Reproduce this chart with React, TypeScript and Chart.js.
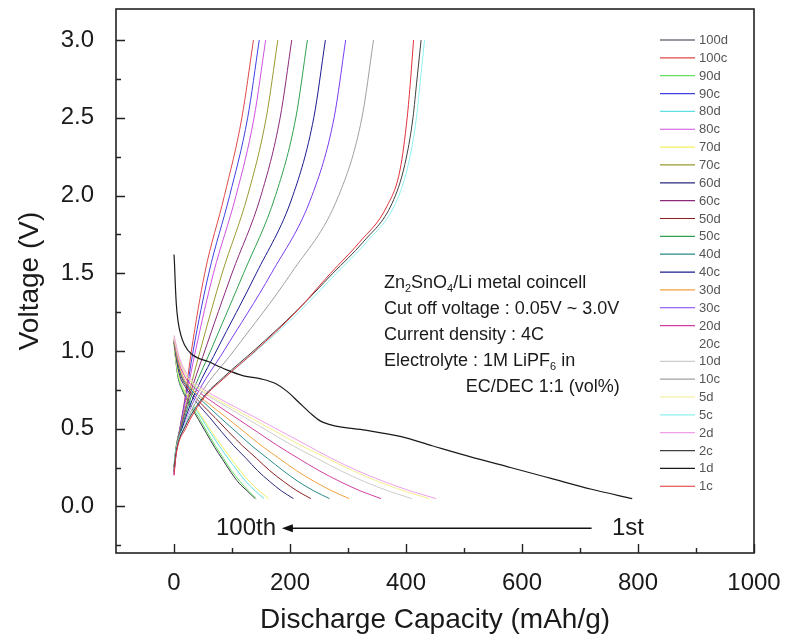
import React, { useEffect, useRef } from 'react';
import { Chart, registerables } from 'chart.js';

Chart.register(...registerables);

type Pt = [number, number];

// ---- axis ticks ----
const X_TICKS = [0, 200, 400, 600, 800, 1000];
const X_MINOR = [100, 300, 500, 700, 900];
const Y_TICKS = [0, 0.5, 1, 1.5, 2, 2.5, 3];
const Y_MINOR = [-0.25, 0.25, 0.75, 1.25, 1.75, 2.25, 2.75];

// ---- charge curves (capacity mAh/g, voltage V) ----
const c1: Pt[] = [[0, 0.2], [4, 0.34], [20, 0.5], [52, 0.7], [85, 0.82], [140, 1.0], [210, 1.25], [270, 1.5], [320, 1.7], [367, 1.93], [390, 2.17], [402, 2.5], [408, 2.75], [413, 3.0]];
const c2: Pt[] = [[0, 0.25], [4, 0.36], [20, 0.52], [50, 0.7], [85, 0.83], [140, 1.01], [212, 1.26], [274, 1.5], [326, 1.7], [376, 1.95], [398, 2.2], [412, 2.5], [419, 2.75], [426, 3.0]];
const c5: Pt[] = [[0, 0.28], [4, 0.38], [20, 0.53], [50, 0.7], [88, 0.83], [145, 1.01], [218, 1.26], [280, 1.5], [332, 1.7], [382, 1.95], [404, 2.2], [418, 2.5], [425, 2.75], [432, 3.0]];
const c10: Pt[] = [[0, 0.22], [4, 0.35], [17, 0.5], [42, 0.7], [103, 1.0], [202, 1.5], [284, 2.0], [324, 2.5], [344, 3.0]];
const c20: Pt[] = [[0, 0.24], [4, 0.36], [16, 0.5], [39, 0.7], [94, 1.0], [185, 1.5], [261, 2.0], [300, 2.5], [320, 3.0]];
const c30: Pt[] = [[0, 0.21], [4, 0.35], [16, 0.5], [37, 0.7], [86, 1.0], [168, 1.5], [238, 2.0], [276, 2.5], [296, 3.0]];
const c40: Pt[] = [[0, 0.23], [4, 0.36], [14, 0.5], [33, 0.7], [73, 1.0], [142, 1.5], [205, 2.0], [241, 2.5], [261, 3.0]];
const c50: Pt[] = [[0, 0.26], [4, 0.38], [13, 0.5], [29, 0.7], [63, 1.0], [120, 1.5], [175, 2.0], [210, 2.5], [230, 3.0]];
const c60: Pt[] = [[0, 0.22], [3, 0.35], [12, 0.5], [26, 0.7], [53, 1.0], [100, 1.5], [150, 2.0], [183, 2.5], [203, 3.0]];
const c70: Pt[] = [[0, 0.25], [3, 0.37], [11, 0.5], [24, 0.7], [45, 1.0], [83, 1.5], [127, 2.0], [159, 2.5], [179, 3.0]];
const c80: Pt[] = [[0, 0.2], [3, 0.34], [11, 0.5], [21, 0.7], [37, 1.0], [68, 1.5], [107, 2.0], [138, 2.5], [158, 3.0]];
const c90: Pt[] = [[0, 0.24], [3, 0.36], [10, 0.5], [20, 0.7], [33, 1.0], [60, 1.5], [96, 2.0], [127, 2.5], [147, 3.0]];
const c100: Pt[] = [[0, 0.22], [3, 0.35], [10, 0.5], [19, 0.7], [30, 1.0], [53, 1.5], [87, 2.0], [117, 2.5], [137, 3.0]];

// ---- discharge curves ----
const d1: Pt[] = [[0, 1.62], [1, 1.55], [2, 1.45], [4, 1.3], [7, 1.19], [12, 1.1], [18, 1.04], [30, 0.98], [60, 0.93], [90, 0.88], [120, 0.84], [150, 0.82], [175, 0.79], [195, 0.74], [215, 0.67], [235, 0.6], [252, 0.55], [275, 0.52], [330, 0.49], [390, 0.45], [445, 0.39], [510, 0.32], [580, 0.25], [650, 0.18], [720, 0.11], [790, 0.05]];
const d2: Pt[] = [[0, 1.1], [9, 0.96], [23, 0.85], [45, 0.77], [90, 0.67], [136, 0.58], [181, 0.49], [226, 0.4], [271, 0.31], [316, 0.23], [362, 0.16], [407, 0.1], [452, 0.05]];
const d5: Pt[] = [[0, 1.09], [9, 0.95], [22, 0.84], [44, 0.76], [88, 0.66], [132, 0.57], [176, 0.48], [220, 0.39], [264, 0.31], [308, 0.23], [352, 0.16], [396, 0.1], [440, 0.05]];
const d10: Pt[] = [[0, 1.08], [8, 0.95], [21, 0.84], [41, 0.76], [82, 0.66], [123, 0.57], [164, 0.48], [205, 0.39], [246, 0.31], [287, 0.23], [328, 0.16], [369, 0.1], [410, 0.05]];
const d20: Pt[] = [[0, 1.08], [7, 0.95], [18, 0.84], [36, 0.76], [71, 0.66], [107, 0.57], [143, 0.48], [179, 0.39], [214, 0.31], [250, 0.23], [286, 0.16], [321, 0.1], [357, 0.05]];
const d30: Pt[] = [[0, 1.07], [6, 0.95], [15, 0.84], [30, 0.76], [60, 0.66], [91, 0.57], [121, 0.48], [151, 0.39], [181, 0.31], [211, 0.23], [242, 0.16], [272, 0.1], [302, 0.05]];
const d40: Pt[] = [[0, 1.07], [5, 0.95], [13, 0.84], [27, 0.76], [54, 0.66], [80, 0.57], [107, 0.48], [134, 0.39], [161, 0.31], [188, 0.23], [214, 0.16], [241, 0.1], [268, 0.05]];
const d50: Pt[] = [[0, 1.06], [5, 0.95], [12, 0.84], [24, 0.76], [47, 0.66], [71, 0.57], [94, 0.48], [118, 0.39], [142, 0.31], [165, 0.23], [189, 0.16], [212, 0.1], [236, 0.05]];
const d60: Pt[] = [[0, 1.06], [4, 0.95], [10, 0.84], [21, 0.76], [41, 0.66], [62, 0.57], [82, 0.48], [103, 0.39], [124, 0.31], [144, 0.23], [165, 0.16], [185, 0.1], [206, 0.05]];
const d70: Pt[] = [[0, 1.05], [3, 0.95], [8, 0.84], [16, 0.76], [33, 0.66], [49, 0.57], [65, 0.48], [82, 0.39], [98, 0.31], [114, 0.23], [130, 0.16], [147, 0.1], [163, 0.05]];
const d80: Pt[] = [[0, 1.05], [3, 0.95], [8, 0.84], [16, 0.76], [31, 0.66], [47, 0.57], [62, 0.48], [78, 0.39], [93, 0.31], [109, 0.23], [124, 0.16], [140, 0.1], [155, 0.05]];
const d90: Pt[] = [[0, 1.05], [3, 0.95], [7, 0.84], [14, 0.76], [28, 0.66], [43, 0.57], [57, 0.48], [71, 0.39], [85, 0.31], [99, 0.23], [114, 0.16], [128, 0.1], [142, 0.05]];
const d100: Pt[] = [[0, 1.05], [3, 0.94], [7, 0.83], [14, 0.75], [28, 0.65], [42, 0.56], [56, 0.47], [70, 0.38], [84, 0.3], [98, 0.22], [112, 0.15], [126, 0.1], [140, 0.05]];

const LABELS = ['1c', '1d', '2c', '2d', '5c', '5d', '10c', '10d', '20c', '20d', '30c', '30d', '40c', '40d', '50c', '50d', '60c', '60d', '70c', '70d', '80c', '80d', '90c', '90d', '100c', '100d'];
const CURVES: Pt[][] = [c1, d1, c2, d2, c5, d5, c10, d10, c20, d20, c30, d30, c40, d40, c50, d50, c60, d60, c70, d70, c80, d80, c90, d90, c100, d100];
const COLORS = [
  '#e0303a', '#1a1a1a', '#404040', '#f0a0e8', '#8ff0f0', '#f2ee8a', '#a0a0a0', '#cccccc', '#ffffff', '#d040a0',
  '#7a3cf0', '#f0a040', '#1a1a90', '#2a8a8a', '#30a050', '#8a2020', '#8a2a7a', '#2a2a80', '#9a9a30', '#f0f060',
  '#d050e0', '#60e0e0', '#4040e0', '#60e060', '#e04848', '#333344',
];

const NOTE_LINES: [string, boolean][][] = [
  [['Zn', false], ['2', true], ['SnO', false], ['4', true], ['/Li metal coincell', false]],
  [['Cut off voltage : 0.05V ~ 3.0V', false]],
  [['Current density : 4C', false]],
  [['Electrolyte : 1M LiPF', false], ['6', true], [' in', false]],
];
const NOTE_LAST = 'EC/DEC 1:1 (vol%)';

const FONT = "'Liberation Sans', Arial, Helvetica, sans-serif";
const TEXT = '#1a1a1a';

const decorPlugin = {
  id: 'decor',
  afterDatasetsDraw(chart: any) {
    const { ctx, chartArea: a, scales } = chart;
    const xs = scales.x;
    const ys = scales.y;
    ctx.save();
    // frame
    ctx.strokeStyle = '#222';
    ctx.lineWidth = 1.6;
    ctx.strokeRect(a.left, a.top, a.right - a.left, a.bottom - a.top);
    // inward ticks
    ctx.lineWidth = 1.4;
    ctx.beginPath();
    for (const v of X_TICKS) { const p = Math.round(xs.getPixelForValue(v)) + 0.5; ctx.moveTo(p, a.bottom); ctx.lineTo(p, a.bottom - 9); }
    for (const v of X_MINOR) { const p = Math.round(xs.getPixelForValue(v)) + 0.5; ctx.moveTo(p, a.bottom); ctx.lineTo(p, a.bottom - 5); }
    for (const v of Y_TICKS) { const p = Math.round(ys.getPixelForValue(v)) + 0.5; ctx.moveTo(a.left, p); ctx.lineTo(a.left + 9, p); }
    for (const v of Y_MINOR) { const p = Math.round(ys.getPixelForValue(v)) + 0.5; ctx.moveTo(a.left, p); ctx.lineTo(a.left + 5, p); }
    ctx.stroke();

    // legend (reverse order, inside plot on the right)
    ctx.font = `13px ${FONT}`;
    ctx.textBaseline = 'middle';
    ctx.textAlign = 'left';
    const n = LABELS.length;
    for (let i = 0; i < n; i++) {
      const k = n - 1 - i;
      const yy = a.top + 31 + i * 17.85;
      ctx.strokeStyle = COLORS[k];
      ctx.lineWidth = 1.2;
      ctx.beginPath();
      ctx.moveTo(a.right - 94, yy);
      ctx.lineTo(a.right - 59, yy);
      ctx.stroke();
      ctx.fillStyle = '#555';
      ctx.fillText(LABELS[k], a.right - 55, yy + 0.5);
    }

    // annotation block
    const size = 18;
    const x0 = xs.getPixelForValue(362);
    let y0 = ys.getPixelForValue(1.44);
    ctx.fillStyle = TEXT;
    for (const segs of NOTE_LINES) {
      let xx = x0;
      for (const [t, sub] of segs) {
        ctx.font = `${sub ? Math.round(size * 0.62) : size}px ${FONT}`;
        ctx.fillText(t, xx, sub ? y0 + size * 0.35 : y0);
        xx += ctx.measureText(t).width;
      }
      y0 += 26;
    }
    ctx.font = `${size}px ${FONT}`;
    ctx.fillText(NOTE_LAST, xs.getPixelForValue(503), y0);

    // arrow 1st -> 100th
    const ay = ys.getPixelForValue(-0.14);
    const tail = xs.getPixelForValue(720);
    const head = xs.getPixelForValue(186);
    ctx.strokeStyle = '#111';
    ctx.fillStyle = '#111';
    ctx.lineWidth = 1.5;
    ctx.beginPath();
    ctx.moveTo(tail, ay);
    ctx.lineTo(head + 8, ay);
    ctx.stroke();
    ctx.beginPath();
    ctx.moveTo(head, ay);
    ctx.lineTo(head + 11, ay - 4);
    ctx.lineTo(head + 11, ay + 4);
    ctx.closePath();
    ctx.fill();
    ctx.font = `24px ${FONT}`;
    ctx.fillStyle = TEXT;
    ctx.textAlign = 'right';
    ctx.fillText('100th', xs.getPixelForValue(176), ay);
    ctx.textAlign = 'left';
    ctx.fillText('1st', xs.getPixelForValue(755), ay);
    ctx.restore();
  },
};

export default function App() {
  const ref = useRef<HTMLCanvasElement>(null);
  useEffect(() => {
    document.body.style.margin = '0';
    const datasets = CURVES.map((pts, i) => ({
      label: LABELS[i],
      data: pts.map(([x, y]) => ({ x, y })),
      borderColor: COLORS[i],
      backgroundColor: COLORS[i],
      borderWidth: i === 1 ? 1.2 : 1,
      pointRadius: 0,
      fill: false,
      cubicInterpolationMode: 'monotone' as const,
    }));
    const chart = new Chart(ref.current as HTMLCanvasElement, {
      type: 'line',
      data: { datasets },
      options: {
        animation: false,
        responsive: false,
        devicePixelRatio: 1,
        layout: { padding: { top: 9, right: 31, left: 0, bottom: 0 } },
        plugins: { legend: { display: false }, tooltip: { enabled: false } },
        scales: {
          x: {
            type: 'linear',
            min: -100,
            max: 1000,
            grid: { display: false },
            border: { display: false },
            afterBuildTicks: (s: any) => { s.ticks = X_TICKS.map((v) => ({ value: v })); },
            afterFit: (s: any) => { s.height = 91; s.paddingLeft = 0; s.paddingRight = 0; },
            ticks: { padding: 8, autoSkip: false, maxRotation: 0, color: TEXT, font: { size: 24, family: FONT }, callback: (v: any) => String(v) },
            title: { display: true, text: 'Discharge Capacity (mAh/g)', color: TEXT, font: { size: 28, family: FONT }, padding: { top: 0, bottom: 7 } },
          },
          y: {
            type: 'linear',
            min: -0.3,
            max: 3.2,
            grid: { display: false },
            border: { display: false },
            afterBuildTicks: (s: any) => { s.ticks = Y_TICKS.map((v) => ({ value: v })); },
            afterFit: (s: any) => { s.width = 116; s.paddingTop = 0; s.paddingBottom = 0; },
            ticks: { padding: 14, color: TEXT, font: { size: 24, family: FONT }, callback: (v: any) => Number(v).toFixed(1) },
            title: { display: true, text: 'Voltage (V)', color: TEXT, font: { size: 28, family: FONT }, padding: { top: 13, bottom: 0 } },
          },
        },
      },
      plugins: [decorPlugin],
    });
    return () => chart.destroy();
  }, []);
  return (
    <div style={{ position: 'absolute', left: 0, top: 0, width: 785, height: 644, background: '#fff' }}>
      <canvas ref={ref} width={785} height={644} style={{ display: 'block' }} />
    </div>
  );
}
